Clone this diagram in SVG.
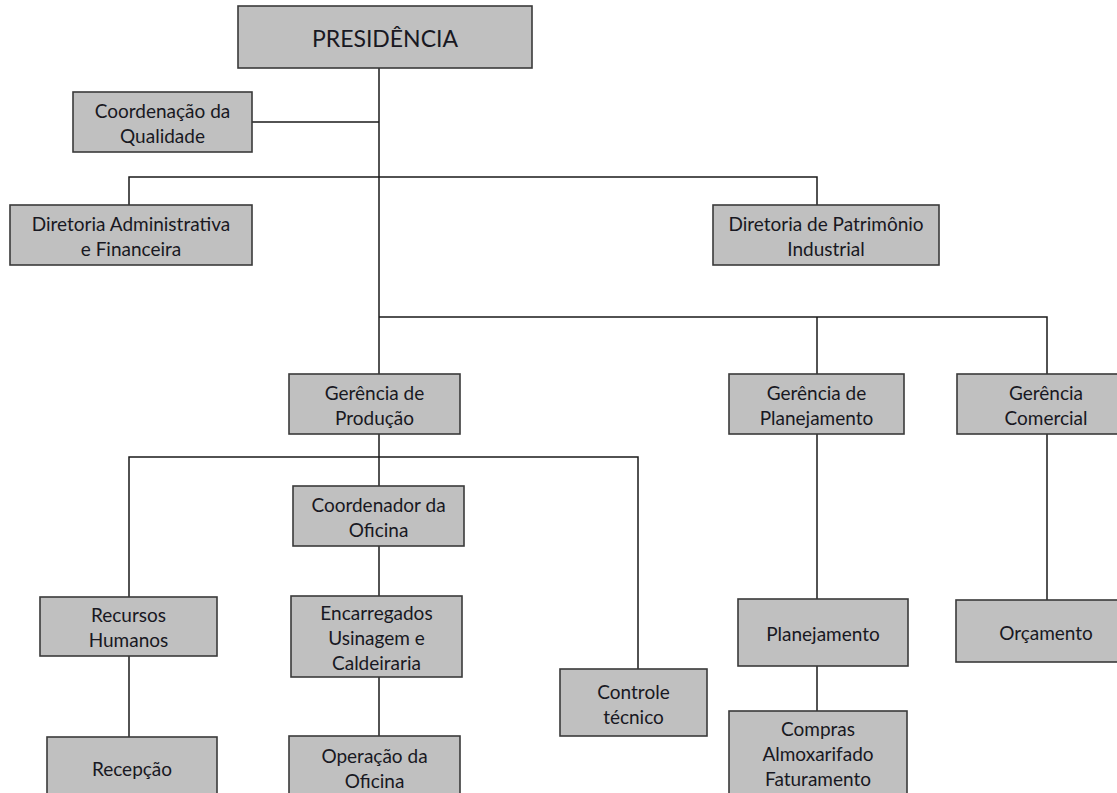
<svg xmlns="http://www.w3.org/2000/svg" width="1117" height="793" viewBox="0 0 1117 793">
  <style>
    .box { fill: #c0c0c0; stroke: #3a3a3a; stroke-width: 1.6; }
    .lbl { font-family: Lato, "Open Sans", "Liberation Sans", sans-serif; font-size: 19px; fill: #181822; text-anchor: middle; dominant-baseline: central; }
    .title { font-size: 23px; }
    .wire { stroke: #1a1a1a; stroke-width: 1.5; fill: none; }
  </style>
  <rect width="1117" height="793" fill="#ffffff"/>

  <!-- reporting lines -->
  <g id="connectors" class="wire">
    <path d="M379 68 V374"/>
    <path d="M252 122 H379"/>
    <path d="M129 205 V177 H817 V205"/>
    <path d="M379 317 H1047 V374"/>
    <path d="M817 317 V374"/>
    <path d="M379 434 V486"/>
    <path d="M129 597 V457 H638 V669"/>
    <path d="M379 546 V596"/>
    <path d="M379 677 V736"/>
    <path d="M129 656 V737"/>
    <path d="M817 434 V599"/>
    <path d="M817 666 V711"/>
    <path d="M1047 434 V600"/>
  </g>

  <g id="presidencia">
    <rect class="box" x="238" y="6" width="294" height="62"/>
    <text class="lbl title" x="385" y="38">PRESIDÊNCIA</text>
  </g>

  <g id="coord-qualidade">
    <rect class="box" x="73" y="92" width="179" height="60"/>
    <text class="lbl" x="162.5" y="110">Coordenação da</text>
    <text class="lbl" x="162.5" y="135">Qualidade</text>
  </g>

  <g id="dir-adm-fin">
    <rect class="box" x="10" y="205" width="242" height="60"/>
    <text class="lbl" x="131" y="223">Diretoria Administrativa</text>
    <text class="lbl" x="131" y="248">e Financeira</text>
  </g>

  <g id="dir-patrimonio">
    <rect class="box" x="713" y="205" width="226" height="60"/>
    <text class="lbl" x="826" y="223">Diretoria de Patrimônio</text>
    <text class="lbl" x="826" y="248">Industrial</text>
  </g>

  <g id="ger-producao">
    <rect class="box" x="289" y="374" width="171" height="60"/>
    <text class="lbl" x="374.5" y="392">Gerência de</text>
    <text class="lbl" x="374.5" y="417">Produção</text>
  </g>

  <g id="ger-planejamento">
    <rect class="box" x="729" y="374" width="175" height="60"/>
    <text class="lbl" x="816.5" y="392">Gerência de</text>
    <text class="lbl" x="816.5" y="417">Planejamento</text>
  </g>

  <g id="ger-comercial">
    <rect class="box" x="957" y="374" width="178" height="60"/>
    <text class="lbl" x="1046" y="392">Gerência</text>
    <text class="lbl" x="1046" y="417">Comercial</text>
  </g>

  <g id="coord-oficina">
    <rect class="box" x="293" y="486" width="171" height="60"/>
    <text class="lbl" x="378.5" y="504">Coordenador da</text>
    <text class="lbl" x="378.5" y="529">Oficina</text>
  </g>

  <g id="recursos-humanos">
    <rect class="box" x="40" y="597" width="177" height="59"/>
    <text class="lbl" x="128.5" y="614">Recursos</text>
    <text class="lbl" x="128.5" y="639">Humanos</text>
  </g>

  <g id="encarregados">
    <rect class="box" x="291" y="596" width="171" height="81"/>
    <text class="lbl" x="376.5" y="612">Encarregados</text>
    <text class="lbl" x="376.5" y="637">Usinagem e</text>
    <text class="lbl" x="376.5" y="662">Caldeiraria</text>
  </g>

  <g id="controle-tecnico">
    <rect class="box" x="560" y="669" width="147" height="67"/>
    <text class="lbl" x="633.5" y="691">Controle</text>
    <text class="lbl" x="633.5" y="716">técnico</text>
  </g>

  <g id="planejamento">
    <rect class="box" x="738" y="599" width="170" height="67"/>
    <text class="lbl" x="823" y="633">Planejamento</text>
  </g>

  <g id="orcamento">
    <rect class="box" x="956" y="600" width="180" height="62"/>
    <text class="lbl" x="1046" y="632">Orçamento</text>
  </g>

  <g id="recepcao">
    <rect class="box" x="47" y="737" width="170" height="62"/>
    <text class="lbl" x="132" y="768">Recepção</text>
  </g>

  <g id="operacao-oficina">
    <rect class="box" x="289" y="736" width="171" height="63"/>
    <text class="lbl" x="374.5" y="755">Operação da</text>
    <text class="lbl" x="374.5" y="780">Oficina</text>
  </g>

  <g id="compras">
    <rect class="box" x="729" y="711" width="178" height="85"/>
    <text class="lbl" x="818" y="728">Compras</text>
    <text class="lbl" x="818" y="753">Almoxarifado</text>
    <text class="lbl" x="818" y="778">Faturamento</text>
  </g>
</svg>
